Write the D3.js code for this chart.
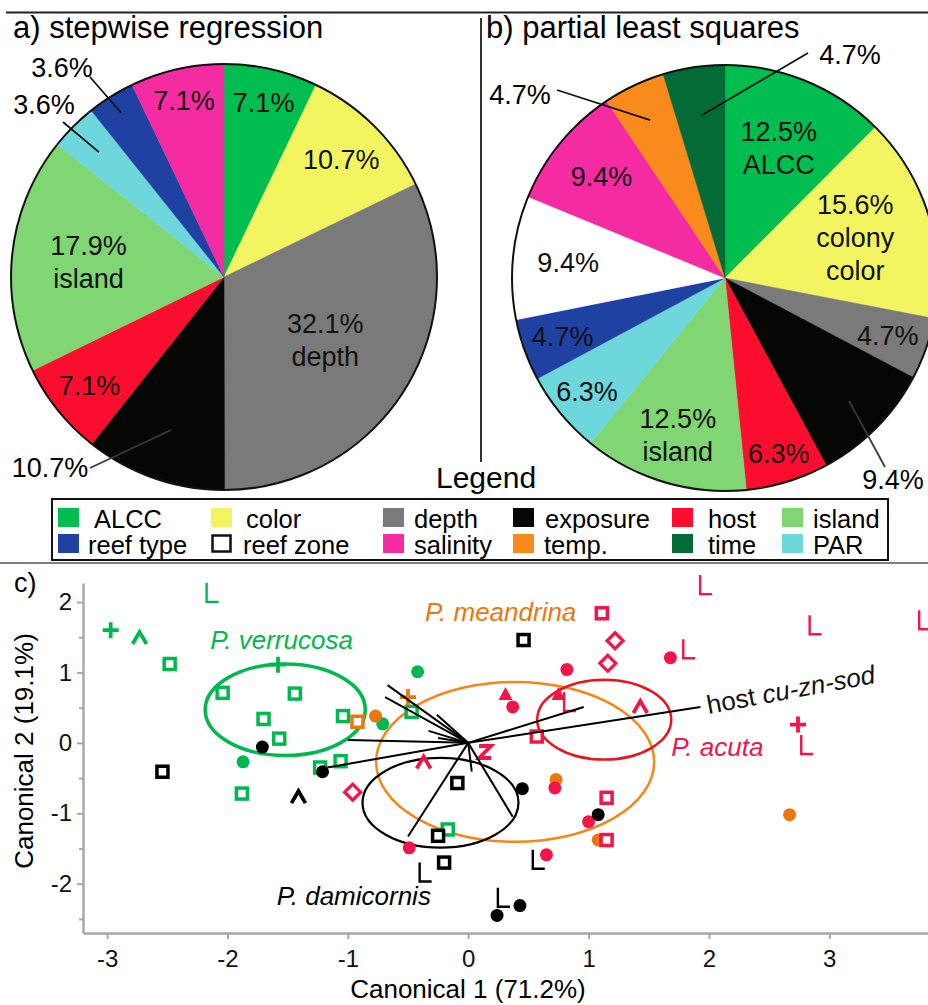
<!DOCTYPE html>
<html>
<head>
<meta charset="utf-8">
<script src="https://cdn.jsdelivr.net/npm/d3@7"></script>
<style>
  body { margin: 0; background: #fff; }
  svg { display: block; font-family: "Liberation Sans", Arial, sans-serif; }
</style>
</head>
<body>
<svg id="fig"></svg>
<script>
// ---- pie data ----
var pieACategories = ["ALCC", "color", "depth", "exposure", "host", "island", "PAR", "reef type", "salinity"];
var pieAValues = [7.1, 10.7, 32.1, 10.7, 7.1, 17.9, 3.6, 3.6, 7.1];
var pieANames = ["", "", "depth", "", "", "island", "", "", ""];

var pieBCategories = ["ALCC", "color", "depth", "exposure", "host", "island", "PAR", "reef type", "reef zone", "salinity", "temp.", "time"];
var pieBValues = [12.5, 15.6, 4.7, 9.4, 6.3, 12.5, 6.3, 4.7, 9.4, 9.4, 4.7, 4.7];
var pieBNames = ["ALCC", "colony\ncolor", "", "", "", "island", "", "", "", "", "", ""];

// legend order
var legendRow1 = ["ALCC", "color", "depth", "exposure", "host", "island"];
var legendRow2 = ["reef type", "reef zone", "salinity", "temp.", "time", "PAR"];

// ---- canonical plot data: [marker, canonical 1, canonical 2] ----
var verrucosa = [
  ["L", -2.14, 2.13], ["plus", -2.97, 1.60], ["caret", -2.73, 1.49], ["square", -2.48, 1.12],
  ["plus", -1.58, 1.11], ["square", -2.04, 0.71], ["square", -1.44, 0.70], ["square", -1.70, 0.34],
  ["square", -1.57, 0.06], ["square", -1.04, 0.38], ["square", -1.06, -0.26], ["square", -1.23, -0.35],
  ["circle", -1.87, -0.27], ["circle", -0.42, 1.01], ["circle", -0.71, 0.27], ["square", -0.47, 0.44],
  ["square", -1.88, -0.72], ["square", -0.17, -1.23]
];
var damicornis = [
  ["circle", -1.71, -0.06], ["square", -2.54, -0.41], ["circle", -1.21, -0.41], ["caret", -1.41, -0.77],
  ["square", -0.09, -0.57], ["square", 0.46, 1.46], ["circle", 0.45, -0.65], ["circle", 1.08, -1.02],
  ["square", -0.25, -1.32], ["square", -0.20, -1.70], ["L", -0.37, -1.84], ["L", 0.57, -1.66],
  ["L", 0.28, -2.20], ["circle", 0.43, -2.31], ["circle", 0.24, -2.45]
];
var meandrina = [
  ["circle", -0.77, 0.38], ["square", -0.92, 0.30], ["plus", -0.50, 0.65], ["circle", 0.73, -0.52],
  ["circle", 1.08, -1.38], ["circle", 2.67, -1.02]
];
var acuta = [
  ["L", 1.96, 2.24], ["square", 1.11, 1.84], ["diamond", 1.22, 1.45], ["diamond", 1.16, 1.13],
  ["circle", 0.82, 1.04], ["circle", 1.68, 1.21], ["L", 1.82, 1.33], ["L", 2.87, 1.67],
  ["L", 3.78, 1.74], ["triangle", 0.31, 0.68], ["circle", 0.37, 0.51], ["triangle", 0.75, 0.68],
  ["L", 0.83, 0.58], ["caret", 1.43, 0.51], ["square", 0.57, 0.09], ["Z", 0.14, -0.13],
  ["caret", -0.37, -0.28], ["diamond", -0.96, -0.70], ["plus", 2.74, 0.26], ["L", 2.80, -0.03],
  ["circle", 0.72, -0.64], ["square", 1.15, -0.78], ["circle", 1.00, -1.12], ["square", 1.15, -1.38],
  ["circle", 0.65, -1.59], ["circle", -0.49, -1.49]
];

// species centroid circles
var speciesNames = ["P. verrucosa", "P. meandrina", "P. acuta", "P. damicornis"];
var centroidX = [-1.52, 0.39, 1.13, -0.23];
var centroidY = [0.47, -0.27, 0.33, -0.85];
var radiusX = [0.665, 1.155, 0.557, 0.648];
var radiusY = [0.65, 1.135, 0.567, 0.638];
var speciesLabelX = [-1.55, 0.27, 2.07, -0.95];
var speciesLabelY = [1.46, 1.86, -0.06, -2.18];

// biplot vectors (end points)
var rayX = [-0.67, -0.69, -0.26, -0.33, -0.25, -1.00, -1.17, -0.50, 0.03, 0.37, 0.96, 1.93];
var rayY = [0.82, 0.65, 0.40, 0.17, 0.07, 0.04, -0.35, -1.33, -0.41, -1.05, 0.51, 0.51];

var xTicks = [-3, -2, -1, 0, 1, 2, 3];
var yTicks = [-2, -1, 0, 1, 2];
var yMinorTicks = [-2.5, -1.5, -0.5, 0.5, 1.5];

// ---- styling ----
var colorMap = {
  "ALCC": "#00bd4f", "color": "#f2f55f", "depth": "#7a7a7a", "exposure": "#050705",
  "host": "#fb0d2e", "island": "#7fd672", "PAR": "#6dd7db", "reef type": "#1f41a1",
  "reef zone": "#ffffff", "salinity": "#f52ba1", "temp.": "#f98a1c", "time": "#056b36"
};
var speciesColor = {
  "P. verrucosa": "#00b84f", "P. meandrina": "#ec760e", "P. acuta": "#f2154a", "P. damicornis": "#000000"
};
var ellipseColor = ["#00b84f", "#f5861a", "#e8141e", "#000000"];
var ellipseWidth = [3.5, 2.5, 2.5, 2.2];

var width = 928, height = 1005;
var svg = d3.select("#fig").attr("width", width).attr("height", height);
svg.append("rect").attr("width", width).attr("height", height).attr("fill", "#fff");

// frame lines
svg.append("line").attr("x1", 6).attr("x2", 928).attr("y1", 12.5).attr("y2", 12.5)
  .attr("stroke", "#222").attr("stroke-width", 1.8);
svg.append("line").attr("x1", 481).attr("x2", 481).attr("y1", 18).attr("y2", 462)
  .attr("stroke", "#333").attr("stroke-width", 2);

svg.append("text").attr("x", 13).attr("y", 38).attr("font-size", 31).text("a) stepwise regression");
svg.append("text").attr("x", 486).attr("y", 38).attr("font-size", 31).text("b) partial least squares");
svg.append("text").attr("x", 436).attr("y", 488).attr("font-size", 30).text("Legend");

// ---- pies ----
var R = 213;
function drawPie(cx, cy, cats, vals, names, labelR, callouts) {
  var g = svg.append("g").attr("transform", "translate(" + cx + "," + cy + ")");
  var pie = d3.pie().sort(null).value(function(d) { return d; });
  var arcs = pie(vals);
  var arc = d3.arc().innerRadius(0).outerRadius(R);
  g.selectAll("path.slice").data(arcs).enter().append("path")
    .attr("class", "slice")
    .attr("d", arc)
    .attr("fill", function(d, i) { return colorMap[cats[i]]; })
    .attr("stroke", function(d, i) { return colorMap[cats[i]]; })
    .attr("stroke-width", 0.5);
  g.append("circle").attr("r", R).attr("fill", "none").attr("stroke", "#111").attr("stroke-width", 2);

  arcs.forEach(function(d, i) {
    var lr = labelR[i] * R;
    var c = d3.arc().innerRadius(lr).outerRadius(lr).centroid(d);
    var txt = vals[i].toFixed(1) + "%";
    var co = callouts[i];
    if (co) {
      g.append("line").attr("x1", c[0]).attr("y1", c[1]).attr("x2", co[2]).attr("y2", co[3])
        .attr("stroke", cats[i] == "exposure" ? "#3a3a3a" : "#111").attr("stroke-width", 1.8);
      g.append("text").attr("x", co[0]).attr("y", co[1]).attr("text-anchor", "middle")
        .attr("dy", "0.35em").attr("font-size", 27).text(txt);
      return;
    }
    var lines = [txt].concat(names[i] ? names[i].split("\n") : []);
    var t = g.append("text").attr("text-anchor", "middle").attr("font-size", 27).attr("fill", "#111");
    var lh = 33;
    lines.forEach(function(s, k) {
      t.append("tspan").attr("x", c[0])
        .attr("y", c[1] + (k - (lines.length - 1) / 2) * lh)
        .attr("dy", "0.35em").text(s);
    });
  });
}

// label radius fraction per slice and callouts [textX, textY, lineEndX, lineEndY] relative to centre
drawPie(224, 277, pieACategories, pieAValues, pieANames,
  [0.84, 0.78, 0.56, 0.76, 0.81, 0.64, 0.83, 0.91, 0.85],
  [null, null, null, [-174, 191, -134, 191], null, null, [-180, -172, -161, -155], [-162, -209, -134, -200], null]);

drawPie(725, 278, pieBCategories, pieBValues, pieBNames,
  [0.66, 0.64, 0.81, 0.82, 0.86, 0.77, 0.84, 0.81, 0.74, 0.75, 0.82, 0.77],
  [null, null, null, [168, 202, 160, 189], null, null, null, null, null, null, [-205, -183, -168, -188], [125, -223, 83, -225]]);

// ---- legend ----
svg.append("rect").attr("x", 52).attr("y", 499).attr("width", 836).attr("height", 61)
  .attr("fill", "#fff").attr("stroke", "#111").attr("stroke-width", 2);
svg.append("line").attr("x1", 0).attr("x2", 928).attr("y1", 563).attr("y2", 563)
  .attr("stroke", "#555").attr("stroke-width", 1.5);

var swatchX = [58, 211, 383, 513, 672, 782];
var textX = [[94, 246, 414, 545, 708, 813], [88, 243, 414, 544, 708, 813]];
[legendRow1, legendRow2].forEach(function(row, r) {
  var yTop = r == 0 ? 508 : 534;
  row.forEach(function(name, i) {
    var outline = name == "reef zone";
    svg.append("rect").attr("x", swatchX[i] + (outline ? 1.5 : 0)).attr("y", yTop + (outline ? 1.5 : 0))
      .attr("width", outline ? 18 : 21).attr("height", outline ? 16 : 19)
      .attr("fill", colorMap[name])
      .attr("stroke", outline ? "#111" : "none").attr("stroke-width", 2.5);
    svg.append("text").attr("x", textX[r][i]).attr("y", yTop + 20).attr("font-size", 25.5).text(name);
  });
});

// ---- canonical plot ----
var x = d3.scaleLinear().domain([-3.2, 3.82]).range([83, 928]);
var y = d3.scaleLinear().domain([-2.7, 2.27]).range([933, 583]);

var axisColor = "#a8a8a8";
svg.append("g").attr("transform", "translate(0,933)")
  .call(d3.axisBottom(x).tickValues(xTicks).tickSize(6).tickSizeOuter(0).tickPadding(11)
    .tickFormat(function(d) { return String(d); }));
svg.append("g").attr("transform", "translate(83,0)")
  .call(d3.axisLeft(y).tickValues(yTicks).tickSize(6).tickSizeOuter(0).tickPadding(5)
    .tickFormat(function(d) { return String(d); }));
svg.append("g").attr("transform", "translate(83,0)")
  .call(d3.axisLeft(y).tickValues(yMinorTicks).tickSize(4).tickFormat(""))
  .select(".domain").remove();
svg.selectAll(".domain").attr("stroke", axisColor).attr("stroke-width", 2.5);
svg.selectAll(".tick line").attr("stroke", axisColor).attr("stroke-width", 2);
svg.selectAll(".tick text").attr("font-size", 24).attr("fill", "#111")
  .attr("font-family", "'Liberation Sans', Arial, sans-serif");

svg.append("text").attr("x", 468).attr("y", 998).attr("text-anchor", "middle")
  .attr("font-size", 26).text("Canonical 1 (71.2%)");
svg.append("text").attr("transform", "translate(33,751) rotate(-90)").attr("text-anchor", "middle")
  .attr("font-size", 26).text("Canonical 2 (19.1%)");
svg.append("text").attr("x", 14).attr("y", 592).attr("font-size", 27).text("c)");

// centroid circles
var ell = svg.append("g");
speciesNames.forEach(function(n, i) {
  ell.append("ellipse")
    .attr("cx", x(centroidX[i])).attr("cy", y(centroidY[i]))
    .attr("rx", x(radiusX[i]) - x(0)).attr("ry", y(0) - y(radiusY[i]))
    .attr("fill", "none").attr("stroke", ellipseColor[i]).attr("stroke-width", ellipseWidth[i]);
});

// markers
function markerPath(shape, cx, cy) {
  switch (shape) {
    case "L": return "M" + (cx - 4) + "," + (cy - 10) + "V" + (cy + 9) + "H" + (cx + 8);
    case "plus": return "M" + (cx - 8) + "," + cy + "H" + (cx + 8) + "M" + cx + "," + (cy - 8) + "V" + (cy + 8);
    case "caret": return "M" + (cx - 7) + "," + (cy + 6) + "L" + cx + "," + (cy - 6) + "L" + (cx + 7) + "," + (cy + 6);
    case "diamond": return "M" + cx + "," + (cy - 8) + "L" + (cx + 8) + "," + cy + "L" + cx + "," + (cy + 8) + "L" + (cx - 8) + "," + cy + "Z";
    case "triangle": return "M" + cx + "," + (cy - 8) + "L" + (cx + 7) + "," + (cy + 5) + "L" + (cx - 7) + "," + (cy + 5) + "Z";
    case "Z": return "M" + (cx - 6) + "," + (cy - 6) + "H" + (cx + 6) + "L" + (cx - 6) + "," + (cy + 6) + "H" + (cx + 6);
  }
}
function drawGroup(pts, col) {
  var g = svg.append("g");
  pts.forEach(function(p) {
    var cx = x(p[1]), cy = y(p[2]);
    if (p[0] == "circle") {
      g.append("circle").attr("cx", cx).attr("cy", cy).attr("r", 6.5).attr("fill", col);
    } else if (p[0] == "square") {
      g.append("rect").attr("x", cx - 5.5).attr("y", cy - 5.5).attr("width", 11).attr("height", 11)
        .attr("fill", "#fff").attr("stroke", col).attr("stroke-width", 3.5);
    } else if (p[0] == "triangle") {
      g.append("path").attr("d", markerPath(p[0], cx, cy)).attr("fill", col);
    } else {
      var sw = p[0] == "L" ? 2.4 : (p[0] == "diamond" ? 3.2 : 3.8);
      g.append("path").attr("d", markerPath(p[0], cx, cy))
        .attr("fill", p[0] == "diamond" ? "#fff" : "none")
        .attr("stroke", col).attr("stroke-width", sw);
    }
  });
}
drawGroup(verrucosa, speciesColor["P. verrucosa"]);
drawGroup(meandrina, speciesColor["P. meandrina"]);
drawGroup(acuta, speciesColor["P. acuta"]);
drawGroup(damicornis, speciesColor["P. damicornis"]);

// biplot rays
rayX.forEach(function(v, i) {
  svg.append("line").attr("x1", x(0)).attr("y1", y(0)).attr("x2", x(v)).attr("y2", y(rayY[i]))
    .attr("stroke", "#000").attr("stroke-width", 2);
});
var hx = x(rayX[rayX.length - 1]) + 8, hy = y(rayY[rayY.length - 1]) + 7;
var ht = svg.append("text").attr("transform", "translate(" + hx + "," + hy + ") rotate(-10.5)")
  .attr("font-size", 26).attr("fill", "#111");
ht.append("tspan").text("host ");
ht.append("tspan").attr("font-style", "italic").text("cu-zn-sod");

// species labels
speciesNames.forEach(function(n, i) {
  svg.append("text").attr("x", x(speciesLabelX[i])).attr("y", y(speciesLabelY[i]))
    .attr("dy", "0.35em").attr("text-anchor", "middle").attr("font-style", "italic")
    .attr("font-size", 26).attr("fill", speciesColor[n]).text(n);
});
</script>
</body>
</html>
